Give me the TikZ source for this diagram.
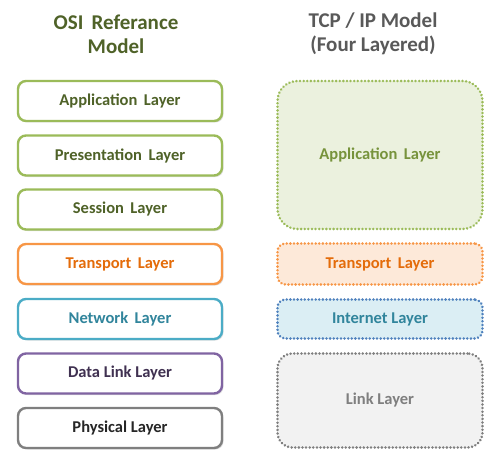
\documentclass[tikz,border=0pt]{standalone}
\usepackage{fontspec}
\setmainfont{Carlito}
\usetikzlibrary{shadows}
\definecolor{grnB}{HTML}{9BBB59}
\definecolor{grnT}{HTML}{4F6228}
\definecolor{grnT2}{HTML}{77933C}
\definecolor{grnF}{HTML}{EBF1DE}
\definecolor{orgB}{HTML}{F79646}
\definecolor{orgT}{HTML}{E46C0A}
\definecolor{orgF}{HTML}{FDE9D9}
\definecolor{bluB}{HTML}{4BACC6}
\definecolor{bluT}{HTML}{31859C}
\definecolor{bluF}{HTML}{DBEEF4}
\definecolor{bluD}{HTML}{4F81BD}
\definecolor{purB}{HTML}{8064A2}
\definecolor{purT}{HTML}{403151}
\definecolor{gryB}{HTML}{7F7F7F}
\definecolor{gryT}{HTML}{262626}
\definecolor{gryF}{HTML}{F2F2F2}
\definecolor{ttl}{HTML}{595959}
\tikzset{
  osibox/.style={draw, fill=white, rounded corners=8pt, line width=2.4pt,
    minimum width=204pt, minimum height=40pt, inner sep=0pt,
    font=\fontsize{16.5}{18}\selectfont\bfseries,
    drop shadow={opacity=0.25, shadow xshift=1.5pt, shadow yshift=-1.5pt}},
  tcpbox/.style={draw, line width=2.8pt, dash pattern=on 0.01pt off 3.6pt, line cap=round,
    minimum width=205pt, inner sep=0pt,
    font=\fontsize{16.5}{18}\selectfont\bfseries},
  titletext/.style={align=center, font=\fontsize{21}{24}\selectfont\bfseries}
}
\begin{document}
\begin{tikzpicture}[x=1pt,y=-1pt]
\useasboundingbox (0,0) rectangle (497,457);
\node[titletext, text=grnT] (t1) at (116,34) {OSI\, Referance\\Model};
\node[titletext, text=ttl] (t2) at (373,34) {TCP / IP Model\\(Four Layered)};

\node[osibox, draw=grnB, text=grnT] (app) at (120,101) {Application\, Layer};
\node[osibox, draw=grnB, text=grnT] (pre) at (120,155.5) {Presentation\, Layer};
\node[osibox, draw=grnB, text=grnT] (ses) at (120,209.5) {Session\, Layer};
\node[osibox, draw=orgB, text=orgT] (tra) at (120,264) {Transport\, Layer};
\node[osibox, draw=bluB, text=bluT] (net) at (120,319) {Network\, Layer};
\node[osibox, draw=purB, text=purT] (dat) at (120,373.5) {Data Link Layer};
\node[osibox, draw=gryB, text=gryT] (phy) at (120,428) {Physical Layer};

\node[tcpbox, draw=grnB, fill=grnF, text=grnT2, rounded corners=20pt, minimum height=148pt] (tapp) at (380,155) {Application\, Layer};
\node[tcpbox, draw=orgB, fill=orgF, text=orgT, rounded corners=8pt, minimum height=41pt] (ttra) at (380,264) {Transport\, Layer};
\node[tcpbox, draw=bluD, fill=bluF, text=bluT, rounded corners=8pt, minimum height=39pt] (tint) at (380,319) {Internet Layer};
\node[tcpbox, draw=gryB, fill=gryF, text=gryB, rounded corners=15pt, minimum height=94pt] (tlnk) at (380,400.5) {Link Layer};
\end{tikzpicture}
\end{document}
